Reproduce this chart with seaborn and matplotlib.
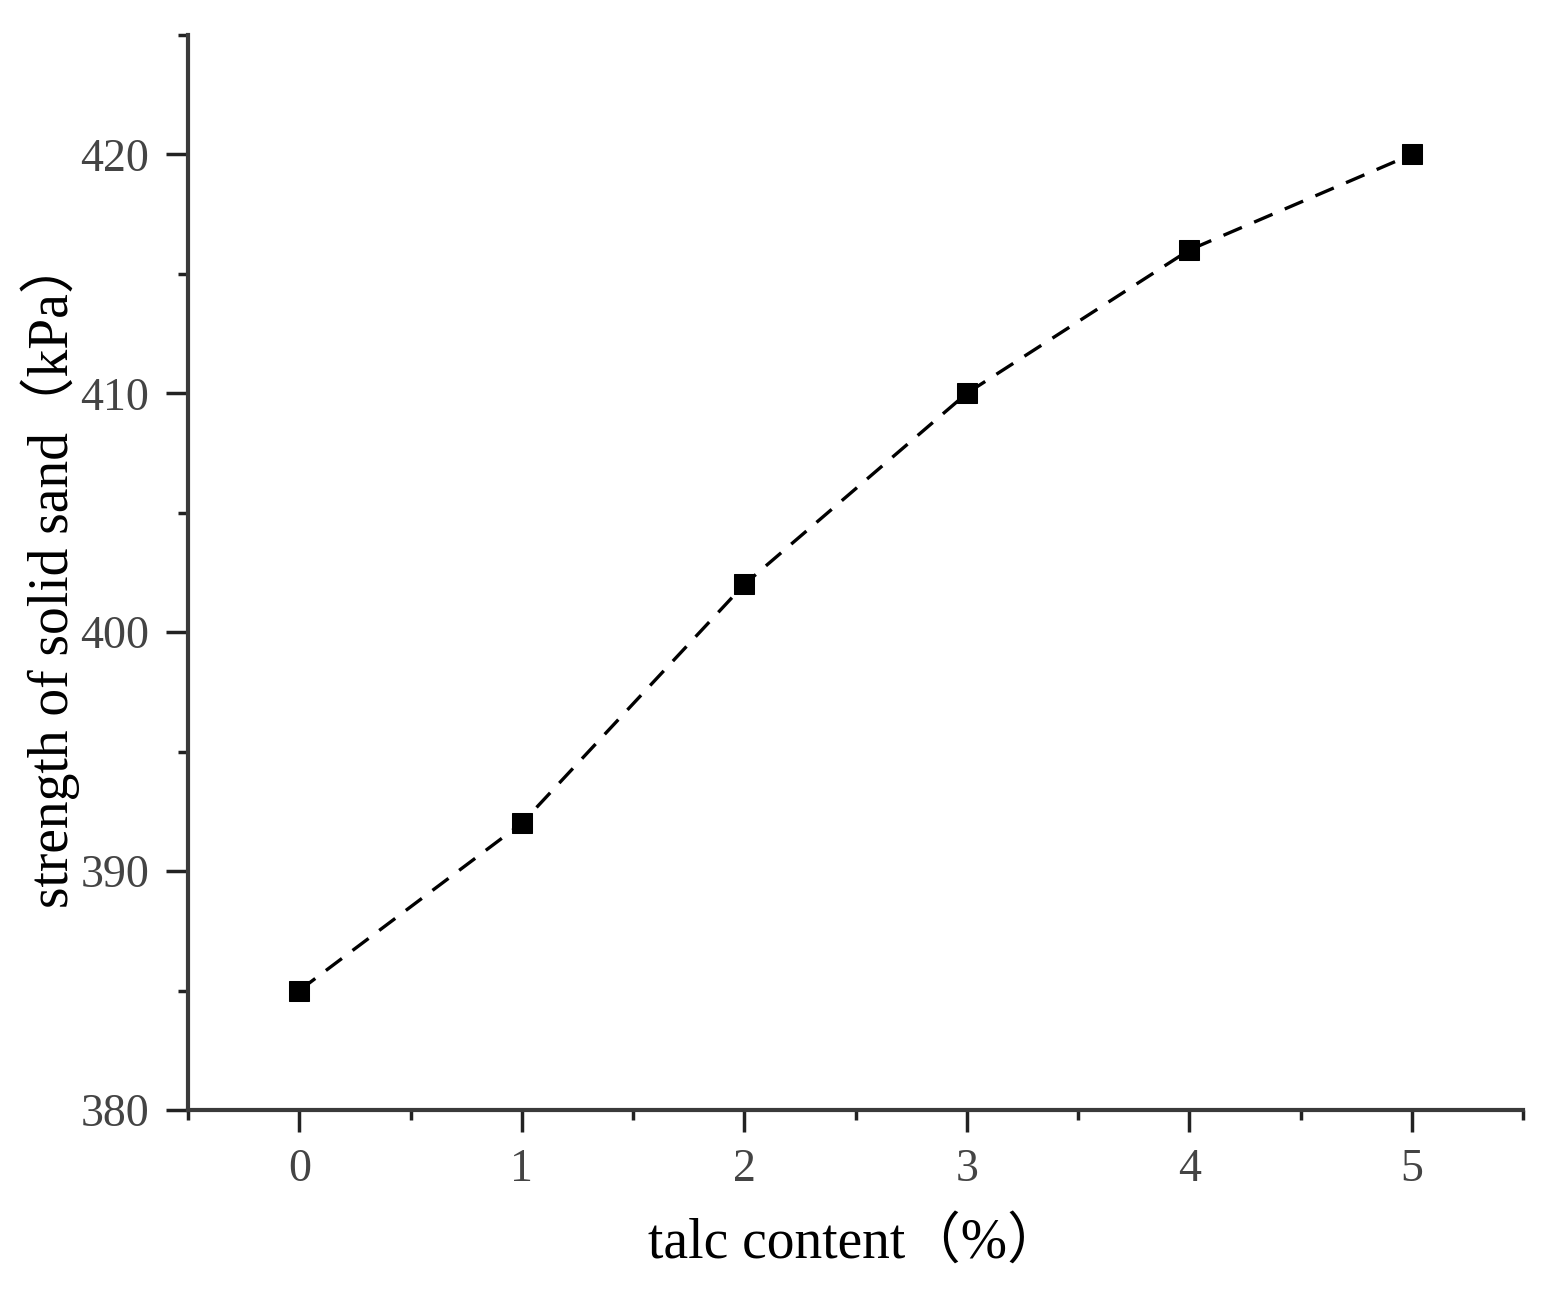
import matplotlib
matplotlib.use("Agg")
import matplotlib.pyplot as plt
import seaborn as sns
import pandas as pd
from matplotlib.ticker import MultipleLocator

# data
talc_content = [0, 1, 2, 3, 4, 5]
strength = [385, 392, 402, 410, 416, 420]

df = pd.DataFrame({"talc": talc_content, "strength": strength})

sns.set_style("ticks")
plt.rcParams["font.family"] = ["Liberation Serif", "Noto Sans CJK SC"]

fig = plt.figure(figsize=(15.5, 12.92), dpi=100)
ax = fig.add_axes([0.1213, 0.1409, 0.8613, 0.832])

sns.lineplot(data=df, x="talc", y="strength", ax=ax, color="black",
             linestyle="--", linewidth=2.4, marker="s", markersize=15,
             markeredgecolor="black", dashes=False)
ax.lines[0].set_linestyle((0, (6, 4)))

ax.set_xlim(-0.5, 5.5)
ax.set_ylim(380, 425)
ax.xaxis.set_major_locator(MultipleLocator(1))
ax.xaxis.set_minor_locator(MultipleLocator(0.5))
ax.yaxis.set_major_locator(MultipleLocator(10))
ax.yaxis.set_minor_locator(MultipleLocator(5))

for side in ["top", "right"]:
    ax.spines[side].set_visible(False)
for side in ["left", "bottom"]:
    ax.spines[side].set_linewidth(3)
    ax.spines[side].set_color("#3a3a3a")

ax.tick_params(which="major", direction="out", length=16, width=2.5,
               labelsize=33, labelcolor="#444444", color="#222222", pad=12)
ax.tick_params(which="minor", direction="out", length=7, width=2.5,
               color="#222222")

ax.set_xlabel("talc content（%）", fontsize=40, labelpad=18, color="black")
ax.set_ylabel("strength of solid sand（kPa）", fontsize=40, labelpad=0,
              color="black")

fig.savefig("out.png", dpi=100)
plt.close(fig)
